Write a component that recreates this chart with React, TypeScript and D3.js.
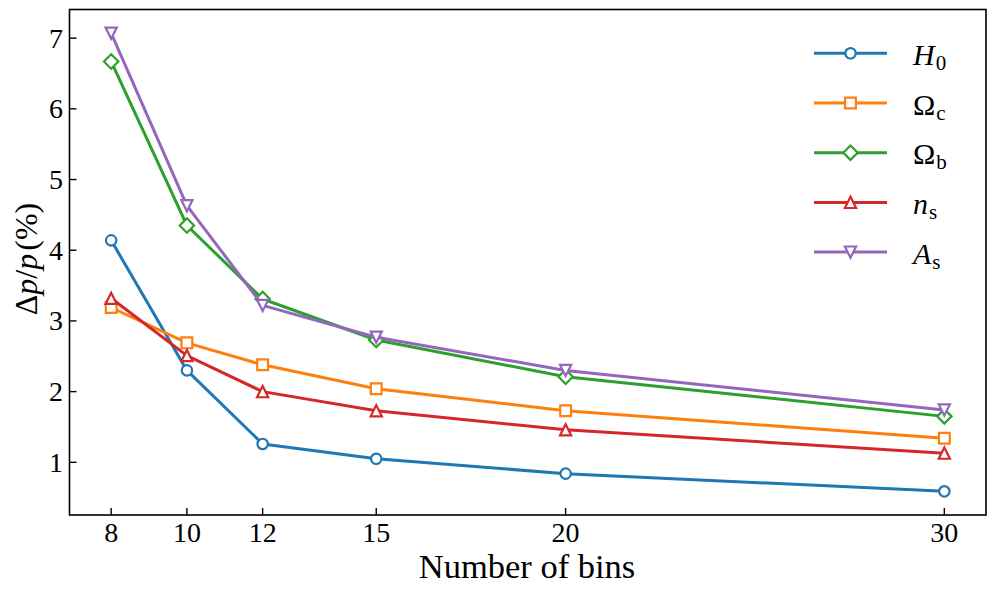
import React from "react";
import * as d3 from "d3";

const bins = [8, 10, 12, 15, 20, 30];
const xTicks = [8, 10, 12, 15, 20, 30];
const yTicks = [1, 2, 3, 4, 5, 6, 7];

const h0 = [4.14, 2.3, 1.26, 1.05, 0.84, 0.59];
const omegaC = [3.19, 2.69, 2.38, 2.04, 1.73, 1.34];
const omegaB = [6.67, 4.35, 3.31, 2.73, 2.21, 1.65];
const ns = [3.32, 2.51, 2.0, 1.73, 1.46, 1.13];
const as = [7.07, 4.63, 3.22, 2.77, 2.3, 1.74];

const seriesNames = ["H0", "Oc", "Ob", "ns", "As"];
const seriesValues = [h0, omegaC, omegaB, ns, as];
const colors = ["#1f77b4", "#ff7f0e", "#2ca02c", "#d62728", "#9467bd"];
const markers = ["circle", "square", "diamond", "up", "down"];

const W = 996;
const H = 595;
const left = 69.5;
const right = 986;
const top = 9.5;
const bottom = 515;
const ff = { fontFamily: '"Liberation Serif"' };

const x = d3.scaleLinear().domain([6.9, 31.1]).range([left, right]);
const y = d3.scaleLinear().domain([0.255, 7.405]).range([bottom, top]);

function markerPath(kind: string, cx: number, cy: number): string {
  const p = d3.path();
  if (kind === "circle") {
    p.moveTo(cx + 5.2, cy);
    p.arc(cx, cy, 5.2, 0, Math.PI * 2);
  } else if (kind === "square") {
    const s = 5.4;
    p.rect(cx - s, cy - s, 2 * s, 2 * s);
  } else if (kind === "diamond") {
    const s = 7.2;
    p.moveTo(cx, cy - s);
    p.lineTo(cx + s, cy);
    p.lineTo(cx, cy + s);
    p.lineTo(cx - s, cy);
    p.closePath();
  } else if (kind === "up") {
    const s = 5.6;
    p.moveTo(cx, cy - s);
    p.lineTo(cx + s, cy + s);
    p.lineTo(cx - s, cy + s);
    p.closePath();
  } else {
    const s = 5.6;
    p.moveTo(cx, cy + s);
    p.lineTo(cx + s, cy - s);
    p.lineTo(cx - s, cy - s);
    p.closePath();
  }
  return p.toString();
}

function LegendLabel({ name, lx, ly }: { name: string; lx: number; ly: number }) {
  const big = 30;
  const sub = 21;
  let main = "";
  let subTxt = "";
  let italic = true;
  if (name === "H0") { main = "H"; subTxt = "0"; }
  else if (name === "Oc") { main = "Ω"; subTxt = "c"; italic = false; }
  else if (name === "Ob") { main = "Ω"; subTxt = "b"; italic = false; }
  else if (name === "ns") { main = "n"; subTxt = "s"; }
  else { main = "A"; subTxt = "s"; }
  return (
    <text x={lx} y={ly} fontSize={big} fill="#000" style={ff}>
      <tspan fontStyle={italic ? "italic" : "normal"} style={ff}>{main}</tspan>
      <tspan fontSize={sub} dy={5} dx={1} style={ff}>{subTxt}</tspan>
    </text>
  );
}

export default function App() {
  const line = d3
    .line<number>()
    .x((_, i) => x(bins[i]))
    .y((v) => y(v));

  const legendX0 = 814;
  const legendX1 = 887;
  const legendY0 = 53.3;
  const legendStep = 49.7;

  return (
    <svg
      width={W}
      height={H}
      style={{ position: "absolute", left: 0, top: 0, background: "#fff", fontFamily: '"Liberation Serif"' }}
    >
      <rect x={0} y={0} width={W} height={H} fill="#fff" />
      {seriesValues.map((vals, si) => (
        <g key={seriesNames[si]}>
          <path d={line(vals) || ""} fill="none" stroke={colors[si]} strokeWidth={3} strokeLinejoin="round" />
          {vals.map((v, i) => (
            <path
              key={i}
              d={markerPath(markers[si], x(bins[i]), y(v))}
              fill="#fff"
              stroke={colors[si]}
              strokeWidth={2.2}
            />
          ))}
        </g>
      ))}

      {/* frame */}
      <rect x={left} y={top} width={right - left} height={bottom - top} fill="none" stroke="#000" strokeWidth={1.6} />

      {/* x ticks */}
      {xTicks.map((t) => (
        <g key={`xt${t}`}>
          <line x1={x(t)} x2={x(t)} y1={bottom} y2={bottom - 7} stroke="#000" strokeWidth={1.4} />
          <text x={x(t)} y={542} textAnchor="middle" fontSize={28} fill="#000" style={ff}>
            {t}
          </text>
        </g>
      ))}
      {/* y ticks */}
      {yTicks.map((t) => (
        <g key={`yt${t}`}>
          <line x1={left} x2={left + 7} y1={y(t)} y2={y(t)} stroke="#000" strokeWidth={1.4} />
          <text x={63} y={y(t) + 9.5} textAnchor="end" fontSize={28} fill="#000" style={ff}>
            {t}
          </text>
        </g>
      ))}

      {/* axis labels */}
      <text x={527} y={578} textAnchor="middle" fontSize={34.5} fill="#000" style={ff}>
        Number of bins
      </text>
      <text
        transform={`translate(37, 259) rotate(-90)`}
        textAnchor="middle"
        fontSize={32}
        fill="#000"
        style={ff}
      >
        <tspan style={ff}>Δ</tspan>
        <tspan fontStyle="italic" style={ff}>p</tspan>
        <tspan style={ff}>/</tspan>
        <tspan fontStyle="italic" style={ff}>p</tspan>
        <tspan dx={3} style={ff}>(%)</tspan>
      </text>

      {/* legend */}
      {seriesNames.map((name, si) => {
        const ly = legendY0 + si * legendStep;
        return (
          <g key={`lg${name}`}>
            <line x1={legendX0} x2={legendX1} y1={ly} y2={ly} stroke={colors[si]} strokeWidth={3} />
            <path d={markerPath(markers[si], (legendX0 + legendX1) / 2, ly)} fill="#fff" stroke={colors[si]} strokeWidth={2.2} />
            <LegendLabel name={name} lx={913} ly={ly + 11.5} />
          </g>
        );
      })}
    </svg>
  );
}
